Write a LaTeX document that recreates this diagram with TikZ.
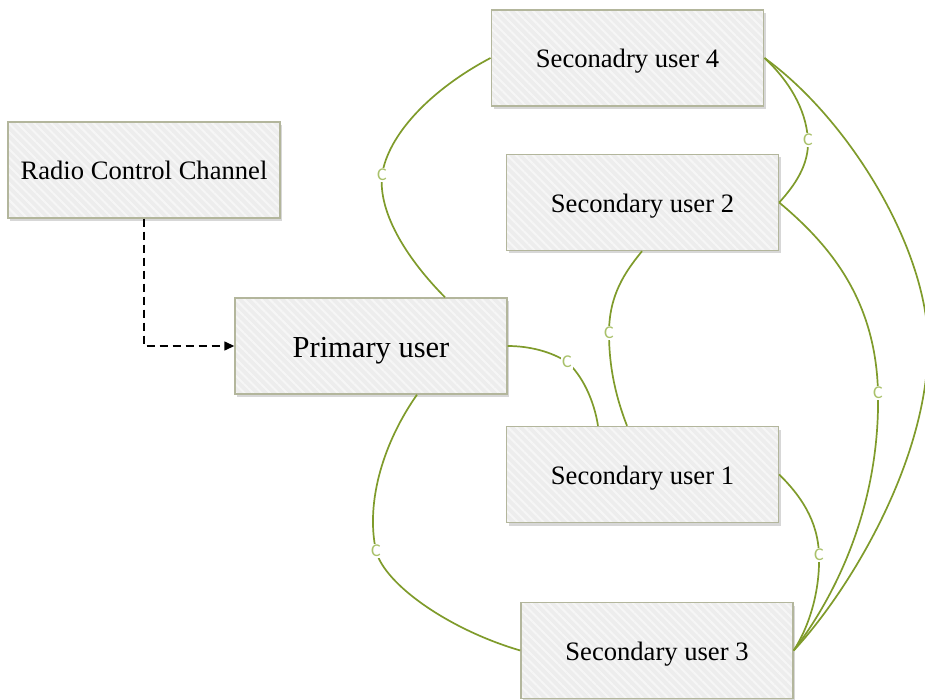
\documentclass[tikz,border=0pt]{standalone}
\usepackage{fontspec}
\setmainfont{Liberation Serif}
\newfontfamily\labelfont{Carlito}
\usetikzlibrary{arrows.meta,patterns.meta,shadows,calc}

\definecolor{boxfill}{HTML}{EDEDED}
\definecolor{boxhatch}{HTML}{F6F6F6}
\definecolor{boxline}{HTML}{B3B69C}
\definecolor{linkgreen}{HTML}{7F9B2B}
\definecolor{labelgreen}{HTML}{A9C16A}

\tikzset{
  userbox/.style={
    draw=boxline, line width=1.4pt,
    minimum width=272pt, minimum height=96pt,
    inner sep=0pt, text height=20pt, text depth=0pt,
    drop shadow={shadow xshift=2pt, shadow yshift=-3pt, fill=black!45, opacity=0.35},
    preaction={fill=boxfill},
    pattern={Lines[angle=-45,distance=6pt,line width=2pt]}, pattern color=boxhatch,
    font=\fontsize{26.6}{30}\selectfont
  },
  bigbox/.style={userbox, text height=23pt, font=\fontsize{30.5}{34}\selectfont},
  link/.style={draw=linkgreen, line width=1.7pt},
  clabel/.style={fill=white, inner sep=1.5pt, text=labelgreen,
    font=\labelfont\fontsize{18}{18}\selectfont},
  control/.style={draw=black, line width=1.4pt, dash pattern=on 8pt off 5pt,
    -{Triangle[length=10pt,width=9pt]}}
}

\begin{document}
\begin{tikzpicture}[x=1pt,y=-1pt]
\useasboundingbox (0,0) rectangle (925,700);

% boxes
\node[userbox] (su4) at (627.5,58) {Seconadry user 4};
\node[userbox] (rcc) at (144,170) {Radio Control Channel};
\node[userbox] (su2) at (642.5,202.5) {Secondary user 2};
\node[bigbox]  (pu)  at (371,346) {Primary user};
\node[userbox] (su1) at (642.5,474.5) {Secondary user 1};
\node[userbox] (su3) at (657,650.5) {Secondary user 3};

% control channel feeding the primary user
\coordinate (bend) at (rcc.south |- pu.west);
\draw[control] (rcc.south) -- (bend) -- (pu.west);

% primary user -- secondary user 4
\draw[link] ([xshift=74pt]pu.north) .. controls (410,262) and (378,215) .. (382,175)
  node[clabel] {C}
  .. controls (388,135) and (430,90) .. (su4.west);

% secondary user 4 -- secondary user 2
\draw[link] (su4.east) .. controls (788,80) and (806,108) .. (808,140)
  node[clabel] {C}
  .. controls (809,165) and (795,185) .. (su2.east);

% secondary user 4 -- secondary user 3
\draw[link] (su4.east) .. controls (850,120) and (928,250) .. (928,345)
  .. controls (928,460) and (850,590) .. (su3.east);

% secondary user 2 -- secondary user 3
\draw[link] (su2.east) .. controls (830,245) and (876,300) .. (878,393)
  node[clabel] {C}
  .. controls (880,500) and (840,590) .. (su3.east);

% secondary user 2 -- secondary user 1
\draw[link] ([xshift=-0.5pt]su2.south) .. controls (625,272) and (609,295) .. (609,333)
  node[clabel] {C}
  .. controls (609,370) and (617,400) .. ([xshift=-15.5pt]su1.north);

% primary user -- secondary user 1
\draw[link] (pu.east) .. controls (530,346) and (552,352) .. (567,362)
  node[clabel] {C}
  .. controls (582,375) and (594,400) .. ([xshift=-44.5pt]su1.north);

% primary user -- secondary user 3
\draw[link] ([xshift=46pt]pu.south) .. controls (385,440) and (365,500) .. (376,551)
  node[clabel] {C}
  .. controls (385,585) and (450,630) .. (su3.west);

% secondary user 1 -- secondary user 3
\draw[link] (su1.east) .. controls (800,495) and (818,520) .. (819,555)
  node[clabel] {C}
  .. controls (820,590) and (810,625) .. (su3.east);
\end{tikzpicture}
\end{document}
